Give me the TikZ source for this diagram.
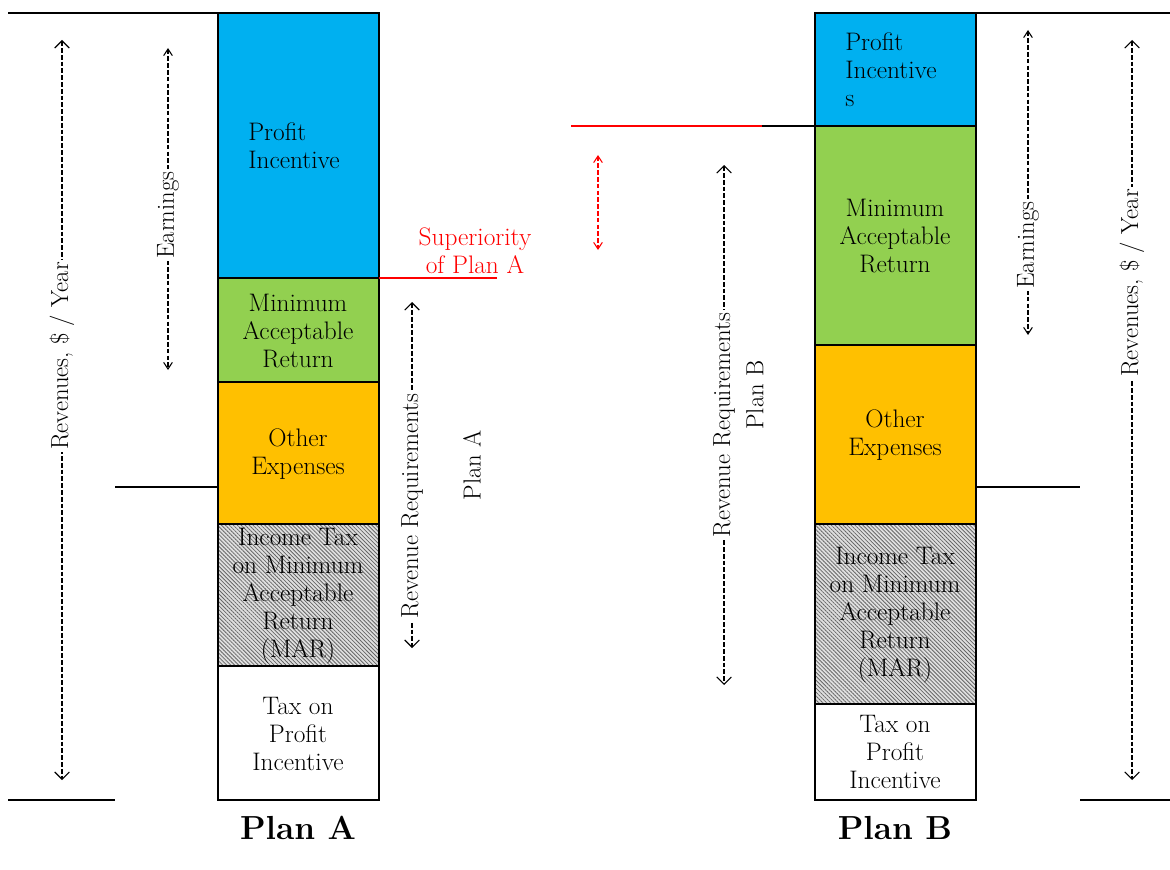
\documentclass[tikz,border=0pt]{standalone}
\usetikzlibrary{arrows.meta,patterns.meta}
\definecolor{profitblue}{HTML}{00B0F0}
\definecolor{margreen}{HTML}{92D050}
\definecolor{otherorange}{HTML}{FFC000}
\tikzset{
  block/.style={draw=black, line width=1.6pt},
  blocktext/.style={align=center, font=\fontsize{19}{21}\selectfont, inner sep=0pt},
  level/.style={line width=1.3pt},
  hatchfill/.style={preaction={fill=gray!25}, pattern={Lines[angle=-45,distance=2.1pt,line width=0.6pt]}, pattern color=black!60},
  bigtip/.style={dash pattern=on 3.5pt off 1.6pt, line width=0.8pt, {Straight Barb[length=5.5pt,width=11pt]}-{Straight Barb[length=5.5pt,width=11pt]}},
  smalltip/.style={dash pattern=on 3.5pt off 1.6pt, line width=0.8pt, {Straight Barb[length=5pt,width=6.5pt]}-{Straight Barb[length=5pt,width=6.5pt]}},
  dimlabel/.style={fill=white, rotate=90, inner sep=1.5pt, font=\fontsize{18.5}{21}\selectfont},
  planlabel/.style={font=\fontsize{25}{28}\selectfont\bfseries}
}
\begin{document}
\begin{tikzpicture}[x=0.75pt, y=-0.75pt]
			%%%%% START %%%%%
			\useasboundingbox (0,0) rectangle (1170,870);
			
			% Plan A column
			\draw[block, fill=profitblue] (218,13) rectangle (379,278);
			\draw[block, fill=margreen] (218,278) rectangle (379,382);
			\draw[block, fill=otherorange] (218,382) rectangle (379,524);
			\draw[block, hatchfill] (218,524) rectangle (379,666);
			\draw[block, fill=white] (218,666) rectangle (379,800);
			
			\node[blocktext, align=left, anchor=west] (aprofit) at (248,146) {Profit\\Incentive};
			\node[blocktext] (amar) at (298,331) {Minimum\\Acceptable\\Return};
			\node[blocktext] (aother) at (298,454) {Other\\Expenses};
			\node[blocktext] (aincome) at (298,596) {Income Tax\\on Minimum\\Acceptable\\Return\\(MAR)};
			\node[blocktext] (ataxprofit) at (298,734) {Tax on\\Profit\\Incentive};
			
			% Plan B column
			\draw[block, fill=profitblue] (815,13) rectangle (976,126);
			\draw[block, fill=margreen] (815,126) rectangle (976,345);
			\draw[block, fill=otherorange] (815,345) rectangle (976,524);
			\draw[block, hatchfill] (815,524) rectangle (976,704);
			\draw[block, fill=white] (815,704) rectangle (976,800);
			
			\node[blocktext, align=left, anchor=west] (bprofit) at (845,70) {Profit\\Incentive\\s};
			\node[blocktext] (bmar) at (895,236) {Minimum\\Acceptable\\Return};
			\node[blocktext] (bother) at (895,435) {Other\\Expenses};
			\node[blocktext] (bincome) at (895,615) {Income Tax\\on Minimum\\Acceptable\\Return\\(MAR)};
			\node[blocktext] (btaxprofit) at (895,752) {Tax on\\Profit\\Incentive};
			
			% level lines
			\draw[level] (8,13) -- (218,13);
			\draw[level] (115,487) -- (218,487);
			\draw[level] (8,800) -- (115,800);
			\draw[level] (976,13) -- (1170,13);
			\draw[level] (976,487) -- (1080,487);
			\draw[level] (1080,800) -- (1170,800);
			\draw[level, red] (379,278) -- (497,278);
			\draw[level, red] (571,126) -- (762,126);
			\draw[level] (762,126) -- (815,126);
			
			% dimension arrows
			\coordinate (revAtop) at (62,40);
			\coordinate (revAbot) at (62,780);
			\coordinate (earnAtop) at (168,48);
			\coordinate (earnAbot) at (168,370);
			\coordinate (reqAtop) at (412,302);
			\coordinate (reqAbot) at (412,648);
			\coordinate (supTop) at (598,155);
			\coordinate (supBot) at (598,250);
			\coordinate (reqBtop) at (724,165);
			\coordinate (reqBbot) at (724,685);
			\coordinate (earnBtop) at (1028,30);
			\coordinate (earnBbot) at (1028,335);
			\coordinate (revBtop) at (1132,40);
			\coordinate (revBbot) at (1132,780);
			
			\draw[bigtip] (revAtop) -- (revAbot);
			\draw[smalltip] (earnAtop) -- (earnAbot);
			\draw[bigtip] (reqAtop) -- (reqAbot);
			\draw[smalltip, red] (supTop) -- (supBot);
			\draw[bigtip] (reqBtop) -- (reqBbot);
			\draw[smalltip] (earnBtop) -- (earnBbot);
			\draw[bigtip] (revBtop) -- (revBbot);
			
			\node[dimlabel] (revAlabel) at (62,356) {Revenues, \$ / Year};
			\node[dimlabel] (earnAlabel) at (168,215) {Earnings};
			\node[dimlabel] (reqAlabel) at (412,506) {Revenue Requirements};
			\node[dimlabel] (reqAplan) at (472,465) {Plan A};
			\node[dimlabel] (reqBlabel) at (724,425) {Revenue Requirements};
			\node[dimlabel] (reqBplan) at (755,395) {Plan B};
			\node[dimlabel] (earnBlabel) at (1028,245) {Earnings};
			\node[dimlabel] (revBlabel) at (1132,283) {Revenues, \$ / Year};
			
			\node[blocktext, text=red] (superior) at (475,251) {Superiority\\of Plan A};
			
			\node[planlabel] (planA) at (298,828) {Plan A};
			\node[planlabel] (planB) at (895,828) {Plan B};
			%%%%% END %%%%%
\end{tikzpicture}
\end{document}
